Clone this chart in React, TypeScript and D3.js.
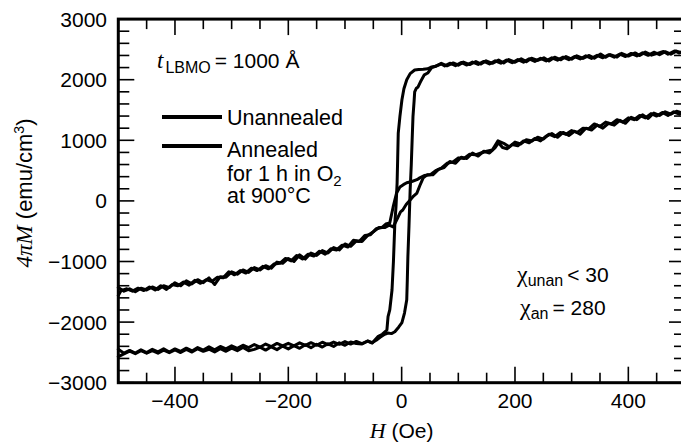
import React from "react";
import * as d3 from "d3";

const W = 681;
const HGT = 444;

// Axis ticks
const xMinorTicks = d3.range(-500, 501, 50);
const xMajorTicks = [-400, -200, 0, 200, 400];
const yMinorTicks = d3.range(-3000, 3001, 200);
const yMajorTicks = [-3000, -2000, -1000, 0, 1000, 2000, 3000];

// Unannealed (square loop): descending branch, H from +500 to -500
const unannealedDown: [number, number][] = [
  [500, 2490], [490, 2440], [482, 2475], [470, 2420], [462, 2465], [450, 2430], [441, 2405], [430, 2455],
  [420, 2400], [412, 2442], [400, 2390], [388, 2435], [380, 2375], [368, 2415], [360, 2370], [351, 2425],
  [340, 2355], [331, 2400], [320, 2350], [309, 2394], [300, 2338], [290, 2382], [281, 2328], [270, 2372],
  [260, 2308], [251, 2362], [240, 2318], [229, 2354], [220, 2298], [211, 2344], [200, 2288], [189, 2332],
  [180, 2276], [171, 2324], [160, 2270], [149, 2312], [140, 2258], [131, 2300], [120, 2250], [109, 2290],
  [100, 2240], [91, 2276], [80, 2230], [70, 2270], [60, 2222], [53, 2210], [46, 2180], [38, 2172],
  [30, 2168], [23, 2160], [15, 2100], [9, 2000], [4, 1850], [0.5, 1670], [-3, 1400], [-6, 1120],
  [-7, 700], [-8, 300], [-10, -100], [-12, -365], [-14.5, -1000], [-17, -1470], [-21, -1800], [-24, -1910],
  [-26, -2130], [-34, -2200], [-42, -2240], [-52, -2345], [-60, -2312], [-70, -2362], [-80, -2352], [-90, -2328],
  [-100, -2382], [-110, -2342], [-120, -2402], [-130, -2358], [-140, -2412], [-150, -2366], [-160, -2422], [-170, -2374],
  [-180, -2432], [-190, -2388], [-200, -2442], [-210, -2396], [-220, -2454], [-230, -2408], [-240, -2462], [-250, -2412],
  [-260, -2450], [-270, -2472], [-280, -2420], [-290, -2472], [-300, -2430], [-310, -2482], [-320, -2438], [-330, -2492],
  [-340, -2448], [-350, -2482], [-360, -2440], [-370, -2494], [-380, -2452], [-390, -2502], [-400, -2460], [-410, -2504],
  [-420, -2462], [-430, -2512], [-440, -2470], [-450, -2514], [-460, -2472], [-470, -2522], [-480, -2480], [-490, -2524],
  [-500, -2570],
];

// Unannealed: ascending branch, H from -500 to +500
const unannealedUp: [number, number][] = [
  [-500, -2450], [-490, -2512], [-480, -2468], [-470, -2510], [-460, -2458], [-450, -2504], [-440, -2450], [-430, -2492],
  [-420, -2440], [-410, -2494], [-400, -2442], [-390, -2482], [-380, -2430], [-370, -2476], [-360, -2420], [-350, -2462],
  [-340, -2408], [-330, -2456], [-320, -2402], [-310, -2442], [-300, -2392], [-290, -2434], [-280, -2382], [-270, -2422],
  [-260, -2370], [-250, -2414], [-240, -2362], [-230, -2404], [-220, -2352], [-210, -2394], [-200, -2350], [-190, -2392],
  [-180, -2342], [-170, -2384], [-160, -2340], [-150, -2382], [-140, -2332], [-130, -2372], [-120, -2330], [-110, -2366],
  [-100, -2322], [-90, -2362], [-80, -2320], [-70, -2354], [-60, -2312], [-52, -2340], [-45, -2300], [-38, -2250],
  [-30, -2200], [-24, -2180], [-18, -2190], [-12, -2160], [-5, -2080], [0.5, -2010], [5, -1850], [9, -1630],
  [10, -1300], [11, -920], [13, -400], [15, 180], [17, 600], [18.5, 1000], [20, 1390], [22, 1650],
  [23, 1800], [26, 1860], [29, 1880], [34, 1980], [40, 2080], [46, 2110], [53, 2200], [60, 2222],
  [70, 2260], [76, 2228], [85, 2272], [95, 2232], [105, 2284], [115, 2242], [125, 2292], [135, 2252],
  [145, 2302], [155, 2260], [165, 2312], [175, 2272], [185, 2324], [195, 2280], [205, 2332], [215, 2290],
  [225, 2344], [235, 2302], [245, 2352], [255, 2310], [265, 2362], [275, 2322], [285, 2372], [295, 2330],
  [305, 2382], [315, 2342], [325, 2394], [335, 2352], [345, 2402], [355, 2362], [365, 2412], [375, 2372],
  [385, 2422], [395, 2382], [405, 2434], [415, 2392], [425, 2444], [435, 2402], [445, 2454], [455, 2412],
  [465, 2462], [475, 2422], [485, 2472], [495, 2442], [500, 2500],
];

// Annealed (sloped loop): descending branch, H from +500 to -500
const annealedDown: [number, number][] = [
  [500, 1480], [490, 1430], [480, 1470], [470, 1410], [460, 1460], [450, 1400], [440, 1440], [430, 1370],
  [420, 1410], [410, 1340], [400, 1370], [390, 1300], [380, 1340], [370, 1270], [360, 1300], [350, 1230],
  [340, 1270], [330, 1190], [320, 1200], [310, 1130], [300, 1160], [290, 1100], [280, 1130], [270, 1060],
  [260, 1100], [250, 1020], [240, 1050], [230, 990], [220, 1010], [210, 940], [200, 970], [190, 890],
  [180, 950], [170, 990], [160, 840], [150, 820], [140, 790], [130, 760], [120, 770], [110, 700],
  [100, 710], [90, 640], [80, 620], [70, 540], [60, 500], [50, 430], [40, 420], [32, 380],
  [27, 350], [18, 320], [9, 300], [3, 268], [-3, 230], [-9, 130], [-15, -100], [-21, -365],
  [-28, -382], [-35, -440], [-45, -460], [-55, -560], [-65, -570], [-75, -670], [-85, -650], [-95, -760],
  [-105, -730], [-115, -810], [-125, -790], [-135, -880], [-145, -830], [-155, -910], [-165, -880], [-175, -960],
  [-185, -900], [-195, -990], [-205, -950], [-215, -1030], [-225, -1040], [-235, -1120], [-245, -1080], [-255, -1150],
  [-265, -1110], [-275, -1190], [-285, -1150], [-295, -1220], [-305, -1170], [-315, -1270], [-325, -1260], [-335, -1330],
  [-345, -1300], [-355, -1360], [-365, -1310], [-375, -1390], [-385, -1340], [-395, -1400], [-405, -1380], [-415, -1460],
  [-425, -1400], [-435, -1470], [-445, -1420], [-455, -1480], [-465, -1440], [-475, -1490], [-485, -1450], [-495, -1480],
  [-500, -1560],
];

// Annealed: ascending branch, H from -500 to +500
const annealedUp: [number, number][] = [
  [-500, -1430], [-490, -1490], [-480, -1450], [-470, -1500], [-460, -1440], [-450, -1470], [-440, -1420], [-430, -1460],
  [-420, -1400], [-410, -1430], [-400, -1350], [-390, -1400], [-380, -1320], [-370, -1370], [-360, -1300], [-350, -1350],
  [-340, -1270], [-330, -1380], [-320, -1250], [-310, -1260], [-300, -1170], [-290, -1210], [-280, -1140], [-270, -1180],
  [-260, -1100], [-250, -1140], [-240, -1070], [-230, -1110], [-220, -1010], [-210, -1030], [-200, -950], [-190, -1000],
  [-180, -890], [-170, -960], [-160, -860], [-150, -900], [-140, -820], [-130, -860], [-120, -770], [-110, -810],
  [-100, -710], [-90, -750], [-80, -660], [-70, -670], [-60, -570], [-50, -510], [-40, -440], [-30, -440],
  [-22, -400], [-15, -430], [-8, -300], [-2, -180], [2, -150], [8, -60], [15, 15], [21, 80],
  [27, 130], [32, 250], [38, 380], [45, 430], [55, 430], [65, 520], [75, 550], [85, 650],
  [95, 620], [105, 720], [115, 700], [125, 790], [135, 740], [145, 820], [155, 790], [165, 880],
  [171, 960], [178, 880], [186, 860], [195, 930], [205, 910], [215, 990], [225, 960], [235, 1030],
  [245, 990], [255, 1070], [265, 1110], [275, 1050], [285, 1130], [295, 1080], [305, 1150], [315, 1100],
  [325, 1200], [335, 1170], [345, 1250], [355, 1200], [365, 1280], [375, 1250], [385, 1330], [395, 1280],
  [405, 1380], [415, 1340], [425, 1420], [435, 1360], [445, 1450], [455, 1410], [465, 1470], [475, 1430],
  [485, 1480], [495, 1450], [500, 1490],
];

const legendLabels = ["Unannealed", "Annealed"];

const SANS = "'Liberation Sans', Arial, Helvetica, sans-serif";
const SERIF = "'Liberation Serif', 'Times New Roman', serif";

export default function App() {
  const x = d3.scaleLinear().domain([-500, 500]).range([118.3, 685]);
  const y = d3.scaleLinear().domain([-3000, 3000]).range([382.7, 19.1]);
  const line = d3
    .line<[number, number]>()
    .x((d) => x(d[0]))
    .y((d) => y(d[1]));

  const x0 = x(-500);
  const x1 = x(500);
  const y0 = y(-3000);
  const y1 = y(3000);
  const fmt = (v: number) => (v < 0 ? "\u2212" + Math.abs(v) : String(v));
  const isXMajor = (v: number) => v % 200 === 0;
  const isYMajor = (v: number) => v % 1000 === 0;

  const curves = [unannealedDown, unannealedUp, annealedDown, annealedUp];

  return (
    <svg
      width={W}
      height={HGT}
      viewBox={`0 0 ${W} ${HGT}`}
      style={{ position: "absolute", left: 0, top: 0, background: "#fff" }}
      fontFamily={SANS}
    >
      <rect x={0} y={0} width={W} height={HGT} fill="#fff" />
      {/* ticks */}
      <g stroke="#000" strokeWidth={1.6}>
        {xMinorTicks.map((v) => {
          const len = isXMajor(v) ? 16 : 10;
          return (
            <g key={"xt" + v}>
              <line x1={x(v)} x2={x(v)} y1={y0} y2={y0 - len} />
              <line x1={x(v)} x2={x(v)} y1={y1} y2={y1 + len} />
            </g>
          );
        })}
        {yMinorTicks.map((v) => {
          const len = isYMajor(v) ? 16 : 11;
          return (
            <g key={"yt" + v}>
              <line x1={x0} x2={x0 + len} y1={y(v)} y2={y(v)} />
              <line x1={x1} x2={x1 - len} y1={y(v)} y2={y(v)} />
            </g>
          );
        })}
      </g>
      {/* frame */}
      <rect x={x0} y={y1} width={x1 - x0} height={y0 - y1} fill="none" stroke="#000" strokeWidth={3} />

      {/* curves */}
      <g fill="none" stroke="#000" strokeWidth={3} strokeLinejoin="round" strokeLinecap="round">
        {curves.map((c, i) => (
          <path key={"c" + i} d={line(c) || ""} />
        ))}
      </g>

      {/* tick labels */}
      <g fontSize={21} fill="#000">
        {xMajorTicks.map((v) => (
          <text key={"xl" + v} x={x(v)} y={408} textAnchor="middle">
            {fmt(v)}
          </text>
        ))}
        {yMajorTicks.map((v) => (
          <text key={"yl" + v} x={107} y={y(v) + 7.5} textAnchor="end">
            {fmt(v)}
          </text>
        ))}
      </g>

      {/* axis titles */}
      <text x={x(0)} y={438} textAnchor="middle" fontSize={21}>
        <tspan fontFamily={SERIF} fontStyle="italic" fontSize={22}>H</tspan>
        <tspan> (Oe)</tspan>
      </text>
      <text transform="translate(32,193) rotate(-90)" textAnchor="middle" fontSize={22}>
        <tspan fontFamily={SERIF} fontStyle="italic" fontSize={23}>4πM</tspan>
        <tspan> (emu/cm</tspan>
        <tspan fontSize={14} dy={-8}>3</tspan>
        <tspan dy={8}>)</tspan>
      </text>

      {/* annotation: thickness */}
      <text x={157} y={68} fontSize={21}>
        <tspan fontFamily={SERIF} fontStyle="italic" fontSize={23}>t</tspan>
        <tspan fontSize={16} dy={5} dx={2}>LBMO</tspan>
        <tspan dy={-5} dx={4}>= 1000 Å</tspan>
      </text>

      {/* legend */}
      <g stroke="#000" strokeWidth={4}>
        <line x1={162} x2={222} y1={117} y2={117} />
        <line x1={162} x2={222} y1={146} y2={146} />
      </g>
      <g fontSize={21.5}>
        <text x={227} y={125}>{legendLabels[0]}</text>
        <text x={227} y={157}>{legendLabels[1]}</text>
        <text x={227} y={181}>
          for 1 h in O<tspan fontSize={15} dy={5}>2</tspan>
        </text>
        <text x={227} y={203}>at 900°C</text>
      </g>

      {/* susceptibility */}
      <text x={517} y={282} fontSize={21}>
        <tspan fontFamily={SERIF} fontSize={24}>χ</tspan>
        <tspan fontSize={16} dy={4}>unan</tspan>
        <tspan dy={-4} dx={4}>&lt; 30</tspan>
      </text>
      <text x={520} y={315} fontSize={21}>
        <tspan fontFamily={SERIF} fontSize={24}>χ</tspan>
        <tspan fontSize={16} dy={4}>an</tspan>
        <tspan dy={-4} dx={4}>= 280</tspan>
      </text>
    </svg>
  );
}
